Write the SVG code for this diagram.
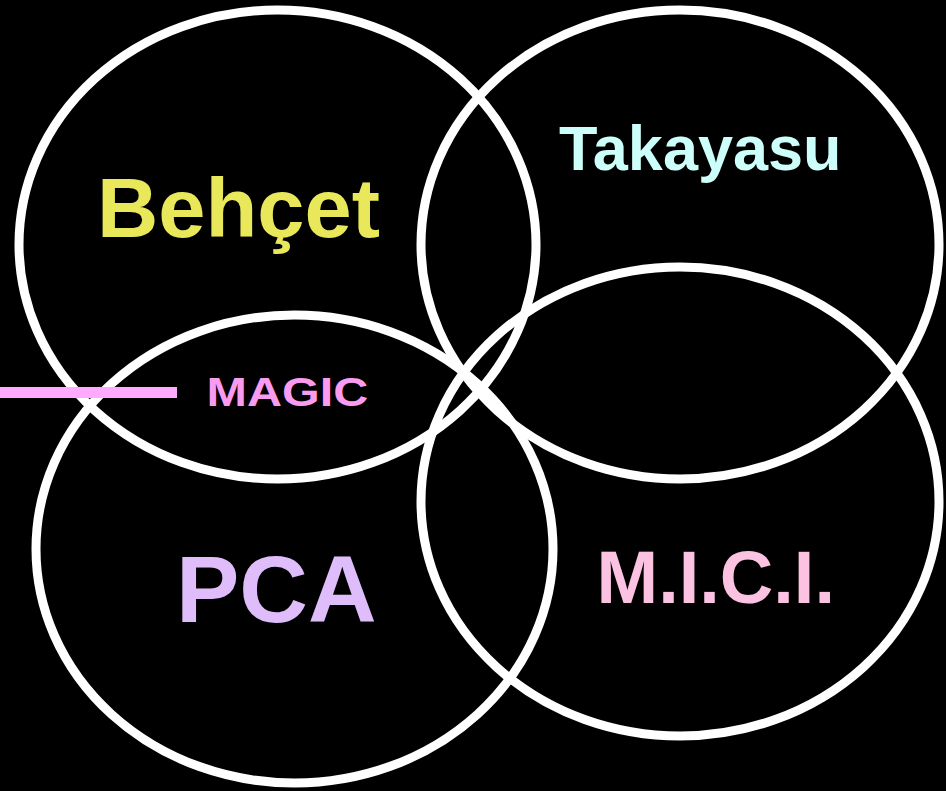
<svg xmlns="http://www.w3.org/2000/svg" width="946" height="791" viewBox="0 0 946 791">
<style>
.ring{fill:none;stroke:#ffffff;stroke-width:9}
.lbl{font-family:"Liberation Sans",Arial,sans-serif;font-weight:bold}
</style>
<rect x="0" y="0" width="946" height="791" fill="#000000"/>
<g id="behcet">
<ellipse class="ring" cx="277.5" cy="244.5" rx="258.5" ry="234.5"/>
<text class="lbl" x="97" y="237" font-size="84" fill="#e8e85a" textLength="283" lengthAdjust="spacingAndGlyphs">Behçet</text>
</g>
<g id="takayasu">
<ellipse class="ring" cx="680" cy="244.5" rx="259" ry="234.5"/>
<text class="lbl" x="559" y="170" font-size="63" fill="#ccfffa">Takayasu</text>
</g>
<g id="pca">
<ellipse class="ring" cx="294.5" cy="549" rx="258.5" ry="234"/>
<text class="lbl" x="176" y="622" font-size="95" fill="#dfbcfa">PCA</text>
</g>
<g id="mici">
<ellipse class="ring" cx="680" cy="501.5" rx="259" ry="234.5"/>
<text class="lbl" x="596.5" y="603" font-size="74" fill="#fbc2e2">M.I.C.I.</text>
</g>
<g id="connectors">
<line x1="0" y1="392.5" x2="177" y2="392.5" stroke="#ffaaff" stroke-width="11"/>
</g>
<g id="magic">
<text class="lbl" x="206.5" y="405.5" font-size="41" fill="#f99cf0" textLength="161.7" lengthAdjust="spacingAndGlyphs">MAGIC</text>
</g>
</svg>
